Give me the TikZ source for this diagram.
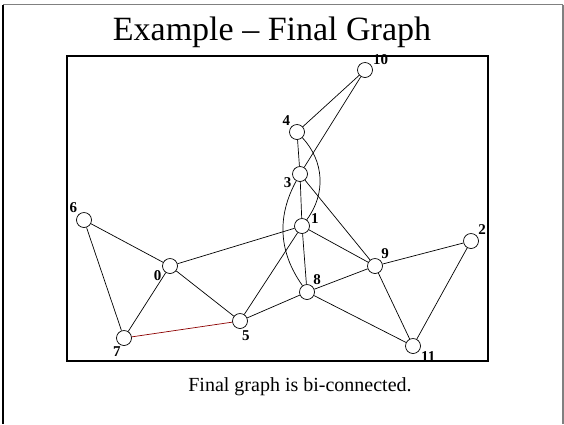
\documentclass[tikz,border=0pt]{standalone}
\usepackage{fontspec}
\setmainfont{Liberation Serif}
\usepackage{tikz}
\usetikzlibrary{calc, positioning}

\begin{document}
\begin{tikzpicture}[
  x=1pt, y=-1pt, line width=0.7pt,
  vtx/.style={draw, circle, fill=white, inner sep=0pt, minimum size=15pt},
  lbl/.style={font=\fontsize{15}{15}\selectfont\bfseries, inner sep=1pt},
  edge/.style={line width=0.7pt},
  frame/.style={line width=1.3pt}]
  \useasboundingbox (0,0) rectangle (564,424);
  % slide border
  \draw[gray, line width=1.5pt] (3,4.5) -- (563,4.5);
  \draw[black, line width=1.2pt] (3,4.5) -- (3,424);
  \draw[gray, line width=1.2pt] (563,4.5) -- (563,424);
  % title + caption
  \node[anchor=base, font=\fontsize{34}{34}\selectfont] (title) at (272,40) {Example -- Final Graph};
  \node[anchor=base, font=\fontsize{20}{20}\selectfont] (cap) at (300,391) {Final graph is bi-connected.};
  % graph box
  \draw[frame] (67,56) rectangle (488,361);
  % vertices
  \node[vtx, label={[lbl]30:10}]   (v10) at (365,70)  {};
  \node[vtx, label={[lbl]135:4}]   (v4)  at (297,132) {};
  \node[vtx, label={[lbl]200:3}]   (v3)  at (300,174) {};
  \node[vtx, label={[lbl]5:1}]     (v1)  at (302,226) {};
  \node[vtx, label={[lbl]50:8}]    (v8)  at (307,292) {};
  \node[vtx, label={[lbl]50:9}]    (v9)  at (375,266) {};
  \node[vtx, label={[lbl]40:2}]    (v2)  at (471,241) {};
  \node[vtx, label={[lbl]-30:11}]  (v11) at (413,346) {};
  \node[vtx, label={[lbl]135:6}]   (v6)  at (84,220)  {};
  \node[vtx, label={[lbl]200:0}]   (v0)  at (170,266) {};
  \node[vtx, label={[lbl]-105:7}]  (v7)  at (124,338) {};
  \node[vtx, label={[lbl]-85:5}]   (v5)  at (240,321) {};
  % edges
  \draw[edge] (v10) -- (v4); \draw[edge] (v10) -- (v3);
  \draw[edge] (v4) -- (v3);  \draw[edge] (v4) to[bend left=40] (v1);
  \draw[edge] (v3) -- (v1);  \draw[edge] (v3) -- (v9);
  \draw[edge] (v3) to[bend right=32] (v8);
  \draw[edge] (v1) -- (v0);  \draw[edge] (v1) -- (v5);
  \draw[edge] (v1) -- (v9);  \draw[edge] (v1) -- (v8);
  \draw[edge] (v8) -- (v9);  \draw[edge] (v8) -- (v5);  \draw[edge] (v8) -- (v11);
  \draw[edge] (v9) -- (v2);  \draw[edge] (v9) -- (v11); \draw[edge] (v2) -- (v11);
  \draw[edge] (v6) -- (v0);  \draw[edge] (v6) -- (v7);
  \draw[edge] (v0) -- (v7);  \draw[edge] (v0) -- (v5);
  % added edge
  \draw[edge, red!55!black] (v7) -- (v5);
\end{tikzpicture}
\end{document}
